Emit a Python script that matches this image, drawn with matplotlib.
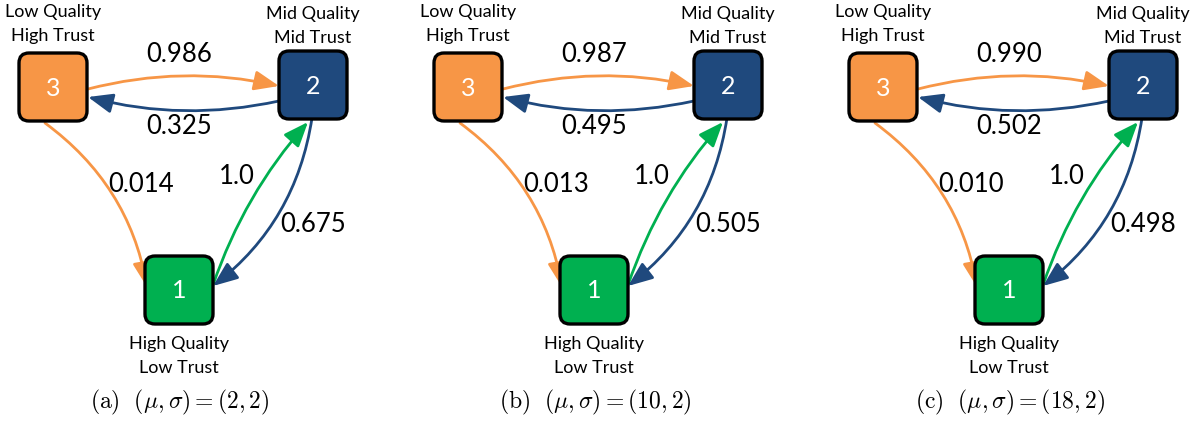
import matplotlib
matplotlib.use("Agg")
import matplotlib.pyplot as plt
from matplotlib.patches import FancyBboxPatch, FancyArrowPatch

# transition probabilities per panel
mu = [2, 10, 18]
sigma = [2, 2, 2]
panel_tags = ["a", "b", "c"]
p_3_to_2 = [0.986, 0.987, 0.990]
p_2_to_3 = [0.325, 0.495, 0.502]
p_3_to_1 = [0.014, 0.013, 0.010]
p_1_to_2 = [1.0, 1.0, 1.0]
p_2_to_1 = [0.675, 0.505, 0.498]

node_names = ["1", "2", "3"]
node_labels = ["High Quality\nLow Trust", "Mid Quality\nMid Trust", "Low Quality\nHigh Trust"]

ORANGE = "#F79646"
BLUE = "#1F497D"
GREEN = "#00B050"
FONT = "Lato"

plt.rcParams["mathtext.fontset"] = "cm"

W, H = 1202, 423
fig = plt.figure(figsize=(W / 100, H / 100), dpi=100)
ax = fig.add_axes([0, 0, 1, 1])
ax.set_xlim(0, W)
ax.set_ylim(H, 0)
ax.axis("off")

# layout of one panel, in pixels
box_size = 68
box_xy = {"3": (19, 53), "2": (279, 51), "1": (145, 256)}
box_color = {"3": ORANGE, "2": BLUE, "1": GREEN}
label_pos = {"3": (53, 24), "2": (313, 26), "1": (179, 356)}
panel_offset = [0, 415, 830]


def draw_box(x0, key):
    x, y = box_xy[key]
    ax.add_patch(FancyBboxPatch((x0 + x, y), box_size, box_size,
                                boxstyle="round,pad=0,rounding_size=10",
                                fc=box_color[key], ec="black", lw=2.4, zorder=3))
    ax.text(x0 + x + box_size / 2, y + box_size / 2 + 1, key, color="white",
            fontsize=18, family=FONT, ha="center", va="center", zorder=4)


def draw_edge(x0, start, end, rad, color):
    arrow = FancyArrowPatch((x0 + start[0], start[1]), (x0 + end[0], end[1]),
                            connectionstyle="arc3,rad=%g" % rad,
                            arrowstyle="-|>,head_length=1.5,head_width=0.6",
                            mutation_scale=10, shrinkA=0, shrinkB=0,
                            color=color, lw=2.0, zorder=2)
    ax.add_patch(arrow)


def draw_panel(i):
    x0 = panel_offset[i]
    for key in node_names:
        draw_box(x0, key)
        lx, ly = label_pos[key]
        ax.text(x0 + lx, ly, node_labels[int(key) - 1], fontsize=13, family=FONT,
                ha="center", va="center", linespacing=1.55)

    draw_edge(x0, (88, 89), (279, 86), -0.12, ORANGE)
    draw_edge(x0, (279, 101), (88, 97), -0.12, BLUE)
    draw_edge(x0, (45, 123), (147, 287), -0.2, ORANGE)
    draw_edge(x0, (213, 285), (308, 122), -0.1, GREEN)
    draw_edge(x0, (312, 118), (213, 286), -0.2, BLUE)

    num = dict(fontsize=18.5, family=FONT, ha="center", va="center")
    ax.text(x0 + 179, 54, "%.3f" % p_3_to_2[i], **num)
    ax.text(x0 + 179, 126, "%.3f" % p_2_to_3[i], **num)
    ax.text(x0 + 141, 185, "%.3f" % p_3_to_1[i], **num)
    ax.text(x0 + 237, 177, "%.1f" % p_1_to_2[i], **num)
    ax.text(x0 + 313, 225, "%.3f" % p_2_to_1[i], **num)

    caption = r"$\mathrm{(%s)}\ \ (\mu,\sigma) = (%d,%d)$" % (panel_tags[i], mu[i], sigma[i])
    ax.text(x0 + 180, 402, caption, fontsize=17, ha="center", va="center")


for i in range(3):
    draw_panel(i)

fig.savefig("out.png", dpi=100)
